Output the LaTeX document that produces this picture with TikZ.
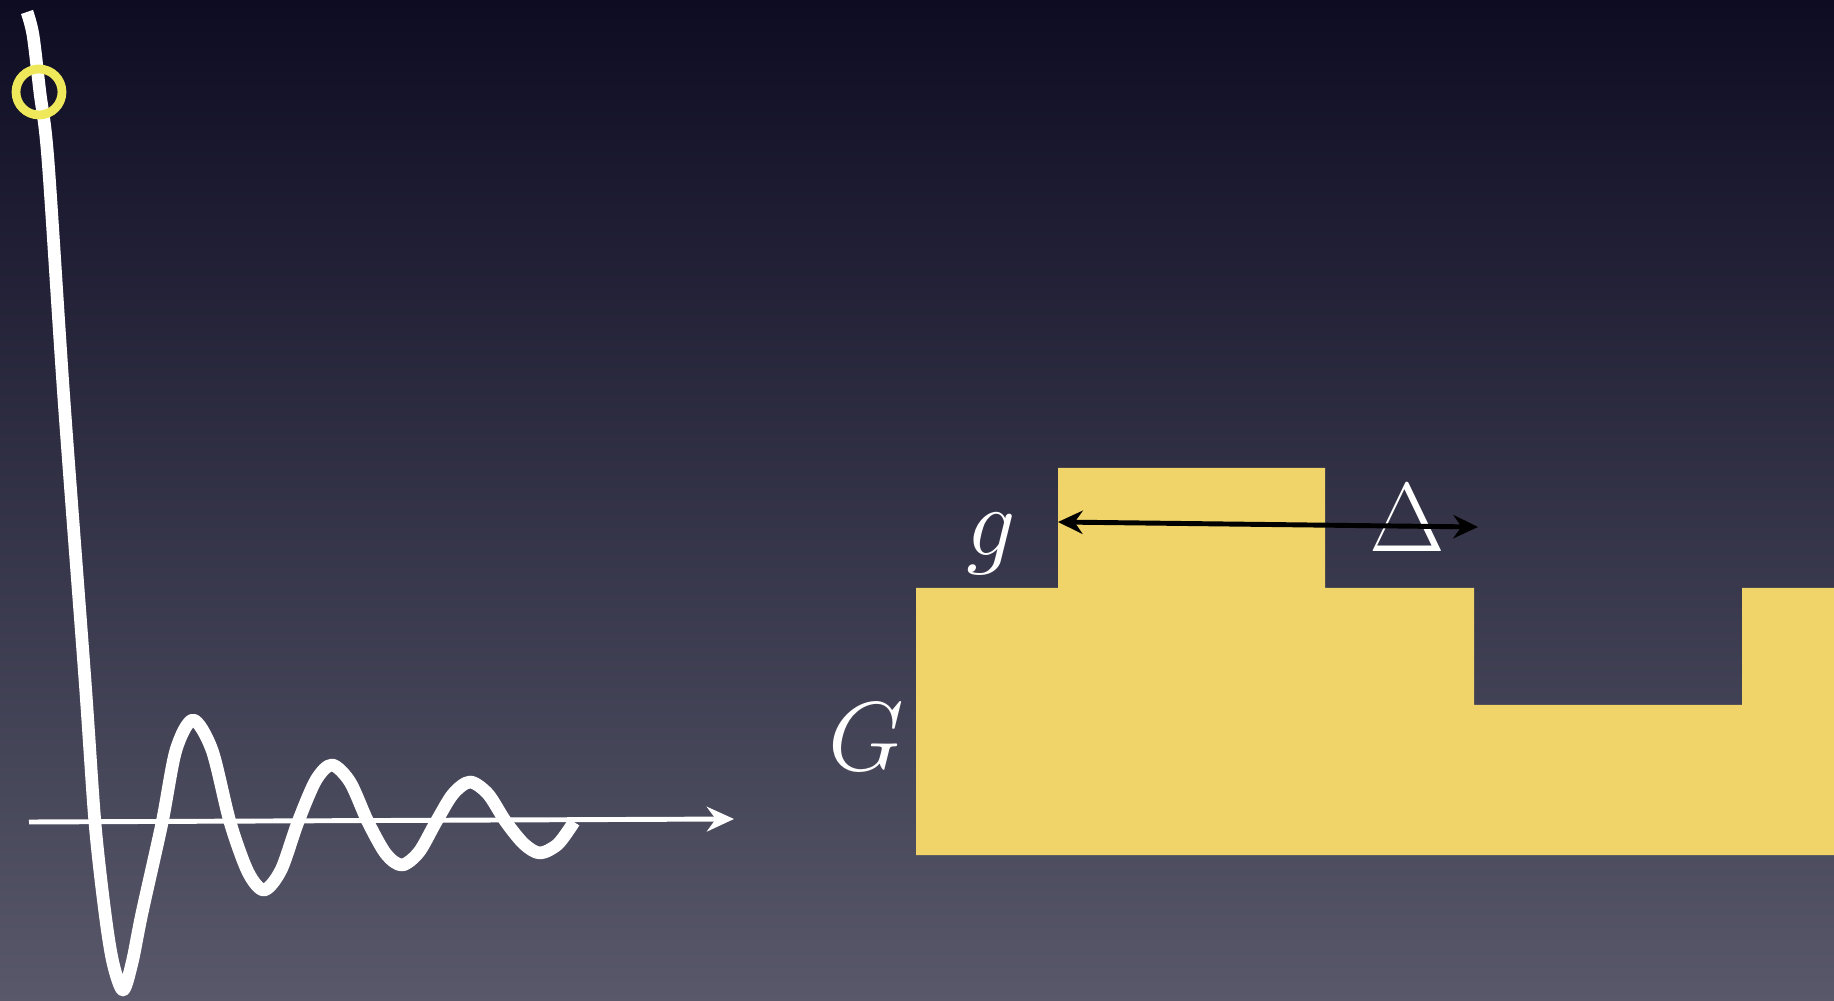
\documentclass[tikz,border=0pt]{standalone}
\usepackage{amsmath}
\usepackage{tikz}
\usetikzlibrary{arrows.meta}
\definecolor{bgtop}{RGB}{13, 12, 35}
\definecolor{bgmid}{RGB}{52, 52, 78}
\definecolor{bgbot}{RGB}{88, 88, 106}
\definecolor{gold}{RGB}{240, 212, 105}
\definecolor{marker}{RGB}{238, 232, 90}

\begin{document}
\begin{tikzpicture}[x=0.01cm, y=-0.01cm, >=Stealth,
    mathtxt/.style={white, font=\Huge, scale=1.12, anchor=base, inner sep=0pt}]
  % Background
  \shade[top color=bgtop, middle color=bgmid, bottom color=bgbot] (0,0) rectangle (1834,1001);
  \useasboundingbox (0,0) rectangle (1834,1001);
  % Stepped block
  \fill[gold] (916,855) -- (916,588) -- (1058,588) -- (1058,468) -- (1325,468) -- (1325,588)
    -- (1474,588) -- (1474,705) -- (1742,705) -- (1742,588) -- (1834,588) -- (1834,855) -- cycle;
  % Axis
  \coordinate (xstart) at (29,822);
  \coordinate (xend) at (734,819);
  \draw[-{Stealth[length=7.7pt, width=7pt]}, white, line width=1.4pt] (xstart) -- (xend);
  % Damped response
  \draw[white, line width=3.6pt, line join=round] plot[smooth, tension=0.5] coordinates {
    (27,12) (33,35) (40,93) (48,160) (64,400) (85,680) (95,823) (105,913) (113,963) (123,990)
    (132,963) (142,913) (162,823) (176,750) (193,720) (212,750) (230,822)
    (248,872) (264,890) (281,870) (298,822) (316,780) (332,765) (350,782) (368,822)
    (386,854) (402,865) (419,852) (436,822) (453,794) (470,782) (488,794) (506,822)
    (524,844) (540,853) (558,844) (574,822)};
  % Marker
  \draw[marker, line width=2.5pt] (39,92) circle (23);
  % Labels
  \node[mathtxt] (glab) at (991,556) {$g$};
  \node[mathtxt] (Glab) at (866,771) {$G$};
  \node[mathtxt] (Dlab) at (1407,552) {$\Delta$};
  % Gap arrow
  \coordinate (gapl) at (1058,522);
  \coordinate (gapr) at (1478,527);
  \draw[{Stealth[length=7pt, width=6.6pt]}-{Stealth[length=7pt, width=6.6pt]}, black, line width=1.4pt] (gapl) -- (gapr);
\end{tikzpicture}
\end{document}
